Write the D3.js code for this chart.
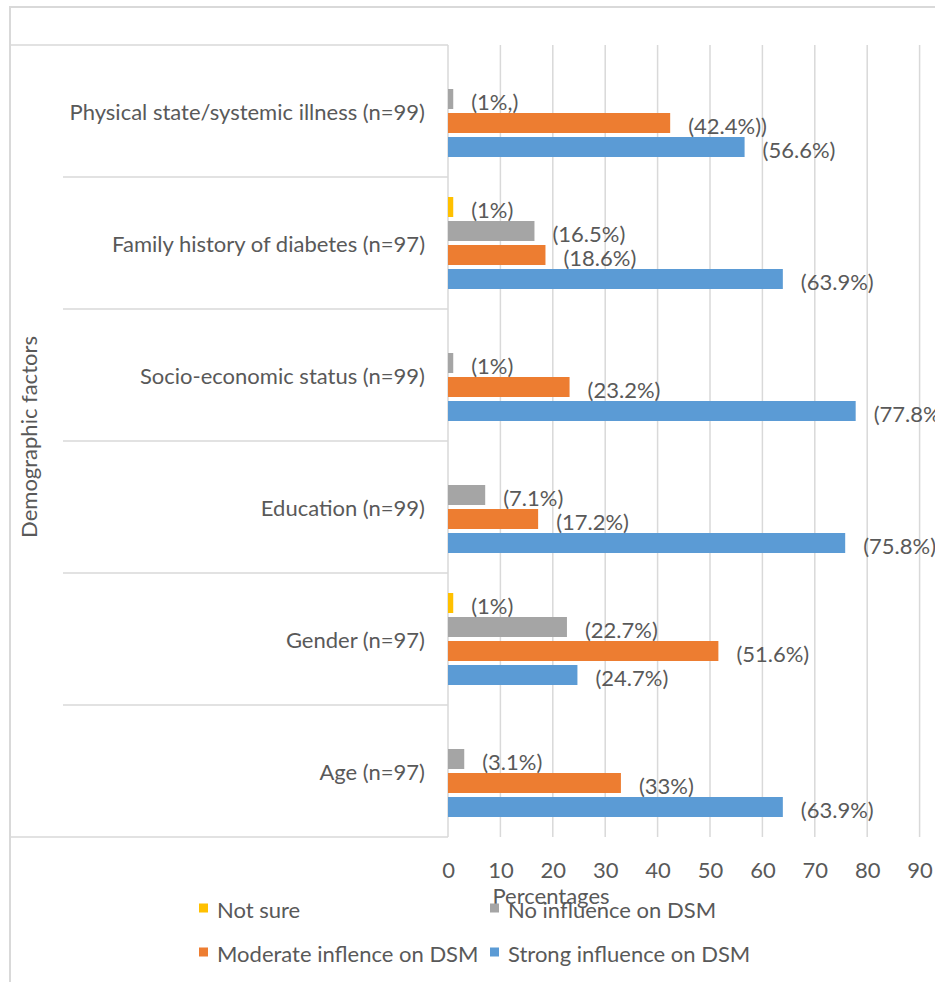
<!DOCTYPE html>
<html>
<head>
<meta charset="utf-8">
<script src="https://cdn.jsdelivr.net/npm/d3@7"></script>
<style>
  html, body { margin: 0; padding: 0; background: #fff; }
  svg { display: block; }
  text { font-family: Lato, "Open Sans", sans-serif; fill: #595959; }
</style>
</head>
<body>
<svg id="chart" width="935" height="982"></svg>
<script>
// Demographic factors, top to bottom
const categories = [
  "Physical state/systemic illness (n=99)",
  "Family history of diabetes (n=97)",
  "Socio-economic status (n=99)",
  "Education (n=99)",
  "Gender (n=97)",
  "Age (n=97)"
];

// Series, in the order they are stacked inside each category
const seriesNames = [
  "Not sure",
  "No influence on DSM",
  "Moderate inflence on DSM",
  "Strong influence on DSM"
];
const seriesColors = ["#FFC000", "#A5A5A5", "#ED7D31", "#5B9BD5"];

// Percentages per category (same order as categories); 0 = no bar
const notSure       = [0,    1,    0,    0,    1,    0];
const noInfluence   = [1,    16.5, 1,    7.1,  22.7, 3.1];
const moderate      = [42.4, 18.6, 23.2, 17.2, 51.6, 33];
const strong        = [56.6, 63.9, 77.8, 75.8, 24.7, 63.9];

// Data labels as printed beside the bars
const notSureLabels     = ["",      "(1%)",    "",        "",        "(1%)",    ""];
const noInfluenceLabels = ["(1%,)", "(16.5%)", "(1%)",    "(7.1%)",  "(22.7%)", "(3.1%)"];
const moderateLabels    = ["(42.4%))", "(18.6%)", "(23.2%)", "(17.2%)", "(51.6%)", "(33%)"];
const strongLabels      = ["(56.6%)", "(63.9%)", "(77.8%)", "(75.8%)", "(24.7%)", "(63.9%)"];

const xTicks = [0, 10, 20, 30, 40, 50, 60, 70, 80, 90];
const xTitle = "Percentages";
const yTitle = "Demographic factors";

const seriesValues = [notSure, noInfluence, moderate, strong];
const seriesLabels = [notSureLabels, noInfluenceLabels, moderateLabels, strongLabels];

const svg = d3.select("#chart");
const FS = 22;
const lineColor = "#d9d9d9";

// Plot area (axis runs to 100, past the right edge of the page)
const plot = { left: 448, right: 972, top: 45, bottom: 837 };

const x = d3.scaleLinear().domain([0, 100]).range([plot.left, plot.right]);
const y = d3.scaleBand().domain(categories).range([plot.top, plot.bottom]).padding(0);
const inner = d3.scaleBand().domain(seriesNames)
  .range([-46, 46]).paddingInner(1 / 6).paddingOuter(0);

// Outer chart border (top and left edges visible)
svg.append("line").attr("x1", 10).attr("x2", 935).attr("y1", 7).attr("y2", 7)
  .attr("stroke", lineColor).attr("stroke-width", 2);
svg.append("line").attr("x1", 10).attr("x2", 10).attr("y1", 6).attr("y2", 982)
  .attr("stroke", lineColor).attr("stroke-width", 2);

// Vertical gridlines
svg.append("g").selectAll("line").data(xTicks.filter(d => d > 0).concat([100])).join("line")
  .attr("x1", d => x(d)).attr("x2", d => x(d))
  .attr("y1", plot.top).attr("y2", plot.bottom)
  .attr("stroke", lineColor).attr("stroke-width", 1.5);

// Category table frame
svg.append("line").attr("x1", 10).attr("x2", plot.left).attr("y1", plot.top).attr("y2", plot.top)
  .attr("stroke", lineColor).attr("stroke-width", 1.5);
svg.append("line").attr("x1", 10).attr("x2", plot.left).attr("y1", plot.bottom).attr("y2", plot.bottom)
  .attr("stroke", lineColor).attr("stroke-width", 1.5);
svg.append("line").attr("x1", plot.left).attr("x2", plot.left).attr("y1", plot.top).attr("y2", plot.bottom)
  .attr("stroke", lineColor).attr("stroke-width", 1.5);

// Separators between categories
svg.append("g").selectAll("line").data(categories.slice(1)).join("line")
  .attr("x1", 63).attr("x2", plot.left)
  .attr("y1", d => y(d)).attr("y2", d => y(d))
  .attr("stroke", lineColor).attr("stroke-width", 1.5);

// Category labels
svg.append("g").selectAll("text").data(categories).join("text")
  .attr("x", 425).attr("y", d => y(d) + y.bandwidth() / 2)
  .attr("text-anchor", "end").attr("dominant-baseline", "central")
  .style("font-size", FS + "px")
  .text(d => d);

// Bars and labels
const flat = [];
categories.forEach((c, ci) => {
  seriesNames.forEach((s, si) => {
    flat.push({ cat: c, series: s, si, value: seriesValues[si][ci], label: seriesLabels[si][ci] });
  });
});
const shown = flat.filter(d => d.value > 0);

svg.append("g").selectAll("rect").data(shown).join("rect")
  .attr("x", x(0))
  .attr("y", d => y(d.cat) + y.bandwidth() / 2 + inner(d.series))
  .attr("width", d => x(d.value) - x(0))
  .attr("height", inner.bandwidth())
  .attr("fill", d => seriesColors[d.si]);

svg.append("g").selectAll("text").data(shown).join("text")
  .attr("x", d => x(d.value) + 18)
  .attr("y", d => y(d.cat) + y.bandwidth() / 2 + inner(d.series) + inner.bandwidth() / 2 + 2)
  .attr("dominant-baseline", "central")
  .style("font-size", FS + "px")
  .text(d => d.label);

// X axis tick labels
const xAxis = d3.axisBottom(x).tickValues(xTicks).tickSize(0).tickPadding(0);
const gx = svg.append("g").attr("transform", `translate(0, 869)`).call(xAxis);
gx.select(".domain").remove();
gx.selectAll("text").attr("dy", null).attr("y", 0)
  .attr("dominant-baseline", "central")
  .style("font-size", FS + "px").attr("fill", "#595959")
  .style("font-family", "Lato, 'Open Sans', sans-serif");

// Axis titles
svg.append("text").attr("x", 551).attr("y", 904).attr("text-anchor", "middle")
  .style("font-size", FS + "px").text(xTitle);
svg.append("text").attr("transform", "translate(28, 437) rotate(-90)")
  .attr("text-anchor", "middle").attr("dominant-baseline", "central")
  .style("font-size", FS + "px").text(yTitle);

// Legend (two rows, two columns)
const legendPos = [[199, 908], [490, 908], [199, 952], [490, 952]];
const lg = svg.append("g").selectAll("g").data(seriesNames).join("g")
  .attr("transform", (d, i) => `translate(${legendPos[i][0]}, ${legendPos[i][1]})`);
lg.append("rect").attr("x", 0).attr("y", -4.5).attr("width", 9).attr("height", 9)
  .attr("fill", (d, i) => seriesColors[i]);
lg.append("text").attr("x", 18).attr("y", 1).attr("dominant-baseline", "central")
  .style("font-size", FS + "px").text(d => d);
</script>
</body>
</html>
